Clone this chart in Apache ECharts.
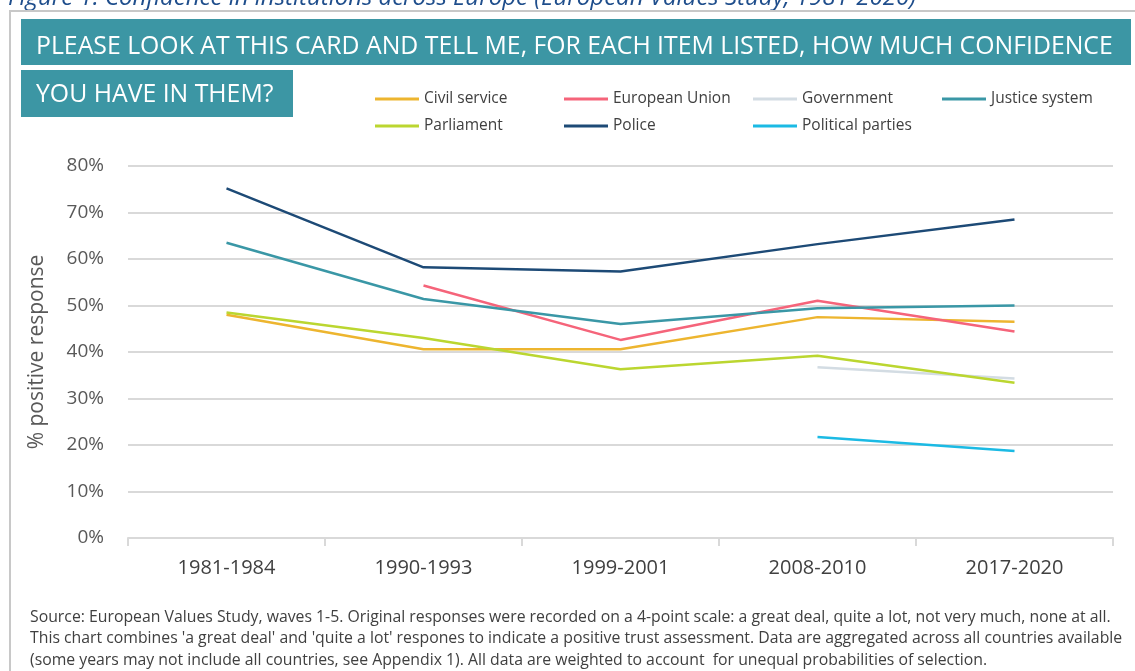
<!DOCTYPE html>
<html>
<head>
<meta charset="utf-8">
<title>Confidence in institutions across Europe</title>
<script src="https://cdn.jsdelivr.net/npm/echarts@6/dist/echarts.min.js"></script>
<style>
  html, body { margin: 0; padding: 0; background: #fff; }
  #chart { width: 1135px; height: 671px; }
</style>
</head>
<body>
<div id="chart"></div>
<script>
// waves of the European Values Study
const waves = ["1981-1984", "1990-1993", "1999-2001", "2008-2010", "2017-2020"];

// % positive response
const civilService = [48.0, 40.6, 40.6, 47.5, 46.5];
const europeanUnion = [null, 54.3, 42.6, 51.0, 44.4];
const government = [null, null, null, 36.7, 34.3];
const justiceSystem = [63.5, 51.4, 46.0, 49.4, 50.0];
const parliament = [48.5, 43.0, 36.3, 39.2, 33.4];
const police = [75.2, 58.2, 57.3, 63.2, 68.5];
const politicalParties = [null, null, null, 21.7, 18.7];

const yTicks = { min: 0, max: 80, step: 10 };

const seriesList = [
  { name: "Civil service", data: civilService, color: "#EDB52F" },
  { name: "European Union", data: europeanUnion, color: "#F5647A" },
  { name: "Government", data: government, color: "#D3DCE3" },
  { name: "Justice system", data: justiceSystem, color: "#3A97A6" },
  { name: "Parliament", data: parliament, color: "#BBD630" },
  { name: "Police", data: police, color: "#1D4A76" },
  { name: "Political parties", data: politicalParties, color: "#1BBAE4" }
];

const footNotes = [
  "Source: European Values Study, waves 1-5. Original responses were recorded on a 4-point scale: a great deal, quite a lot, not very much, none at all.",
  "This chart combines 'a great deal' and 'quite a lot' respones to indicate a positive trust assessment. Data are aggregated across all countries available",
  "(some years may not include all countries, see Appendix 1). All data are weighted to account  for unequal probabilities of selection."
];

const font = "'Open Sans', 'DejaVu Sans', sans-serif";
const teal = "#3C96A4";

const chart = echarts.init(document.getElementById("chart"));

const legendBase = {
  left: 375,
  padding: 0,
  icon: "rect",
  itemWidth: 44,
  itemHeight: 3,
  itemGap: 0,
  selectedMode: false,
  textStyle: { color: "#404040", fontSize: 15.5, fontFamily: font, width: 140, lineHeight: 20 }
};

const option = {
  animation: false,
  color: seriesList.map(s => s.color),
  legend: [
    Object.assign({}, legendBase, { top: 89, data: seriesList.slice(0, 4).map(s => s.name) }),
    Object.assign({}, legendBase, { top: 116, data: seriesList.slice(4).map(s => s.name) })
  ],
  grid: { left: 128, right: 22, top: 166, bottom: 133 },
  xAxis: {
    type: "category",
    data: waves,
    boundaryGap: true,
    axisLine: { lineStyle: { color: "#D9D9D9", width: 2 } },
    axisTick: { show: true, length: 8, lineStyle: { color: "#D9D9D9", width: 2 } },
    axisLabel: { color: "#404040", fontSize: 20, fontFamily: font, margin: 20 }
  },
  yAxis: {
    type: "value",
    min: yTicks.min,
    max: yTicks.max,
    interval: yTicks.step,
    name: "% positive response",
    nameLocation: "middle",
    nameGap: 80,
    nameTextStyle: { color: "#595959", fontSize: 21, fontFamily: font },
    axisLine: { show: false },
    axisTick: { show: false },
    splitLine: { lineStyle: { color: "#D9D9D9", width: 2 } },
    axisLabel: { formatter: "{value}%", color: "#595959", fontSize: 19, fontFamily: font, margin: 24 }
  },
  series: seriesList.map(s => ({
    name: s.name,
    type: "line",
    data: s.data,
    symbol: "none",
    lineStyle: { width: 2.5, color: s.color },
    itemStyle: { color: s.color }
  })),
  graphic: [
    {
      type: "text", x: 8, y: -2,
      style: {
        text: "Figure 1: Confidence in institutions across Europe (European Values Study, 1981-2020)",
        fill: "#1F4E8C", fontSize: 24, fontStyle: "italic", fontFamily: font, verticalAlign: "middle"
      }
    },
    {
      type: "rect", shape: { x: 10, y: 11, width: 1140, height: 700 },
      style: { fill: "none", stroke: "#C8C8C8", lineWidth: 2 }
    },
    {
      type: "rect", shape: { x: 21, y: 19, width: 1110, height: 46 },
      style: { fill: teal }
    },
    {
      type: "text", x: 36, y: 47,
      style: {
        text: "PLEASE LOOK AT THIS CARD AND TELL ME, FOR EACH ITEM LISTED, HOW MUCH CONFIDENCE",
        fill: "#fff", fontSize: 24.8, fontFamily: font, verticalAlign: "middle"
      }
    },
    {
      type: "rect", shape: { x: 21, y: 70, width: 272, height: 47 },
      style: { fill: teal }
    },
    {
      type: "text", x: 36, y: 95,
      style: { text: "YOU HAVE IN THEM?", fill: "#fff", fontSize: 24.8, fontFamily: font, verticalAlign: "middle" }
    }
  ].concat(footNotes.map((t, i) => ({
    type: "text", x: 30, y: 617 + i * 21.5,
    style: { text: t, fill: "#404040", fontSize: 15.8, fontFamily: font, verticalAlign: "middle" }
  })))
};

chart.setOption(option);
</script>
</body>
</html>
